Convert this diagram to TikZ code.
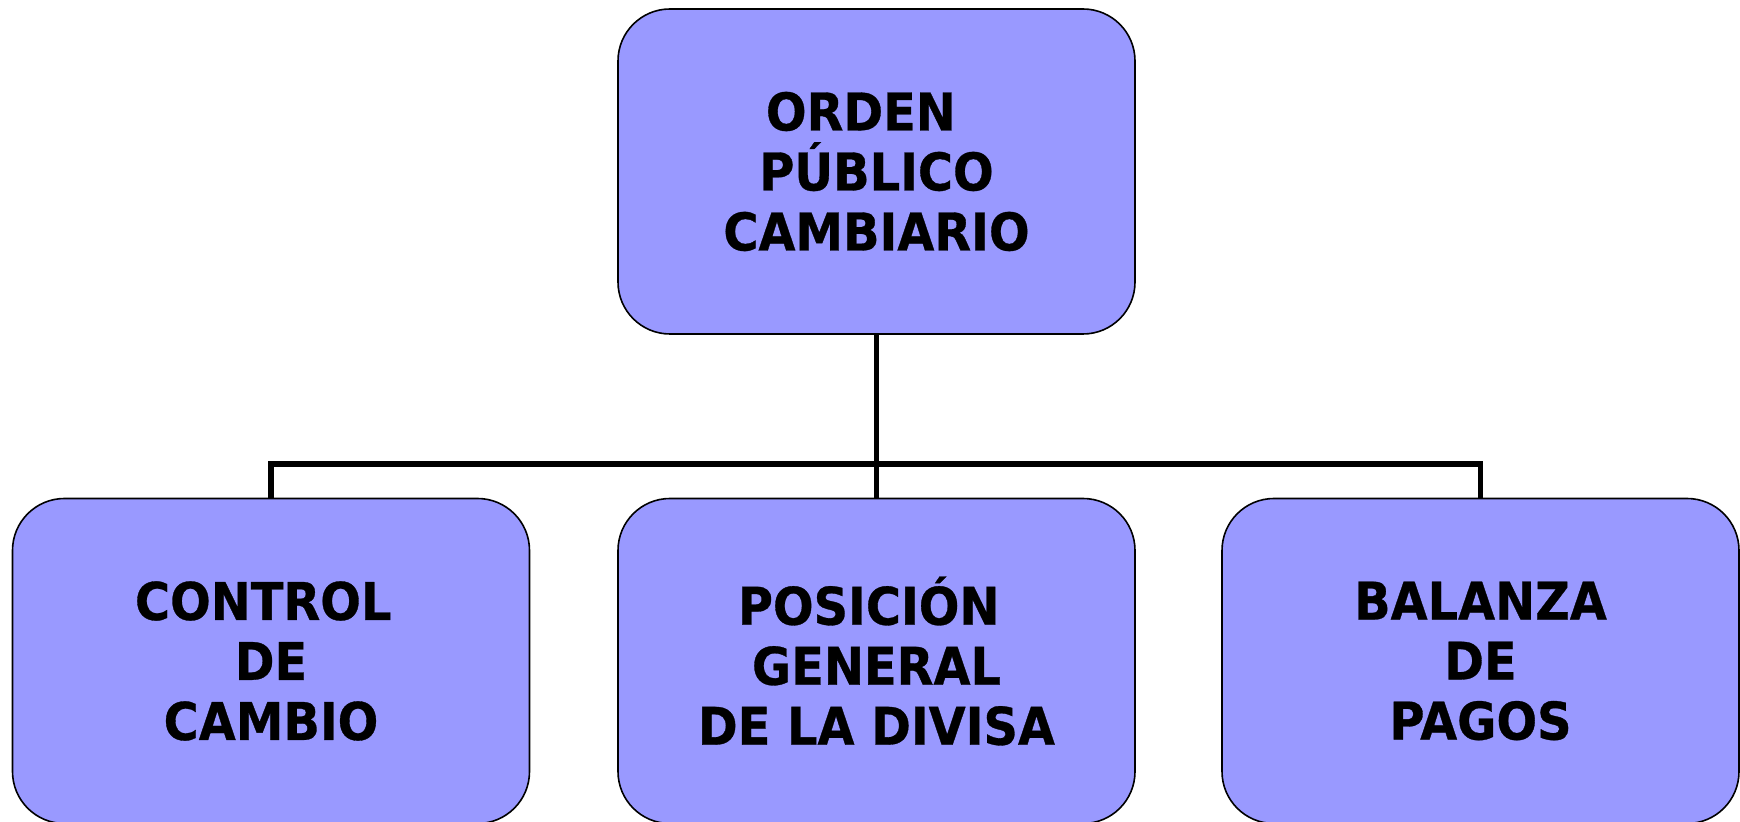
\documentclass[tikz,border=0pt]{standalone}
\usepackage{fontspec}
\newfontfamily\boxfont{DejaVu Sans}[FakeStretch=0.92,FakeBold=0.6]
\definecolor{boxfill}{HTML}{9999FF}
\begin{document}
\begin{tikzpicture}[x=0.5pt,y=-0.5pt,
  orgbox/.style={draw=black, line width=0.8pt, fill=boxfill, rounded corners=26pt,
    minimum width=258.5pt, minimum height=162.5pt, inner sep=0pt, align=center,
    font=\boxfont\bfseries\fontsize{26pt}{30pt}\selectfont},
  link/.style={draw=black, line width=2.8pt}]
\useasboundingbox (0,0) rectangle (1740,822);
\clip (0,0) rectangle (1740,822);
\node[orgbox] (top) at (876.5,171.5) {ORDEN\hspace*{0.6em}\\PÚBLICO\\CAMBIARIO};
\node[orgbox] (left) at (271,661) {CONTROL\hspace*{0.3em}\\DE\hspace*{0.4em}\\CAMBIO};
\node[orgbox] (mid) at (876.5,661) {POSICIÓN\hspace*{0.3em}\\GENERAL\hspace*{0.3em}\\DE LA DIVISA};
\node[orgbox] (right) at (1480.5,661) {BALANZA\\DE\\PAGOS};
\coordinate (bus) at (876.5,464);
\draw[link] (top.south) -- (mid.north);
\draw[link] (left.north) |- (bus) -| (right.north);
\end{tikzpicture}
\end{document}
